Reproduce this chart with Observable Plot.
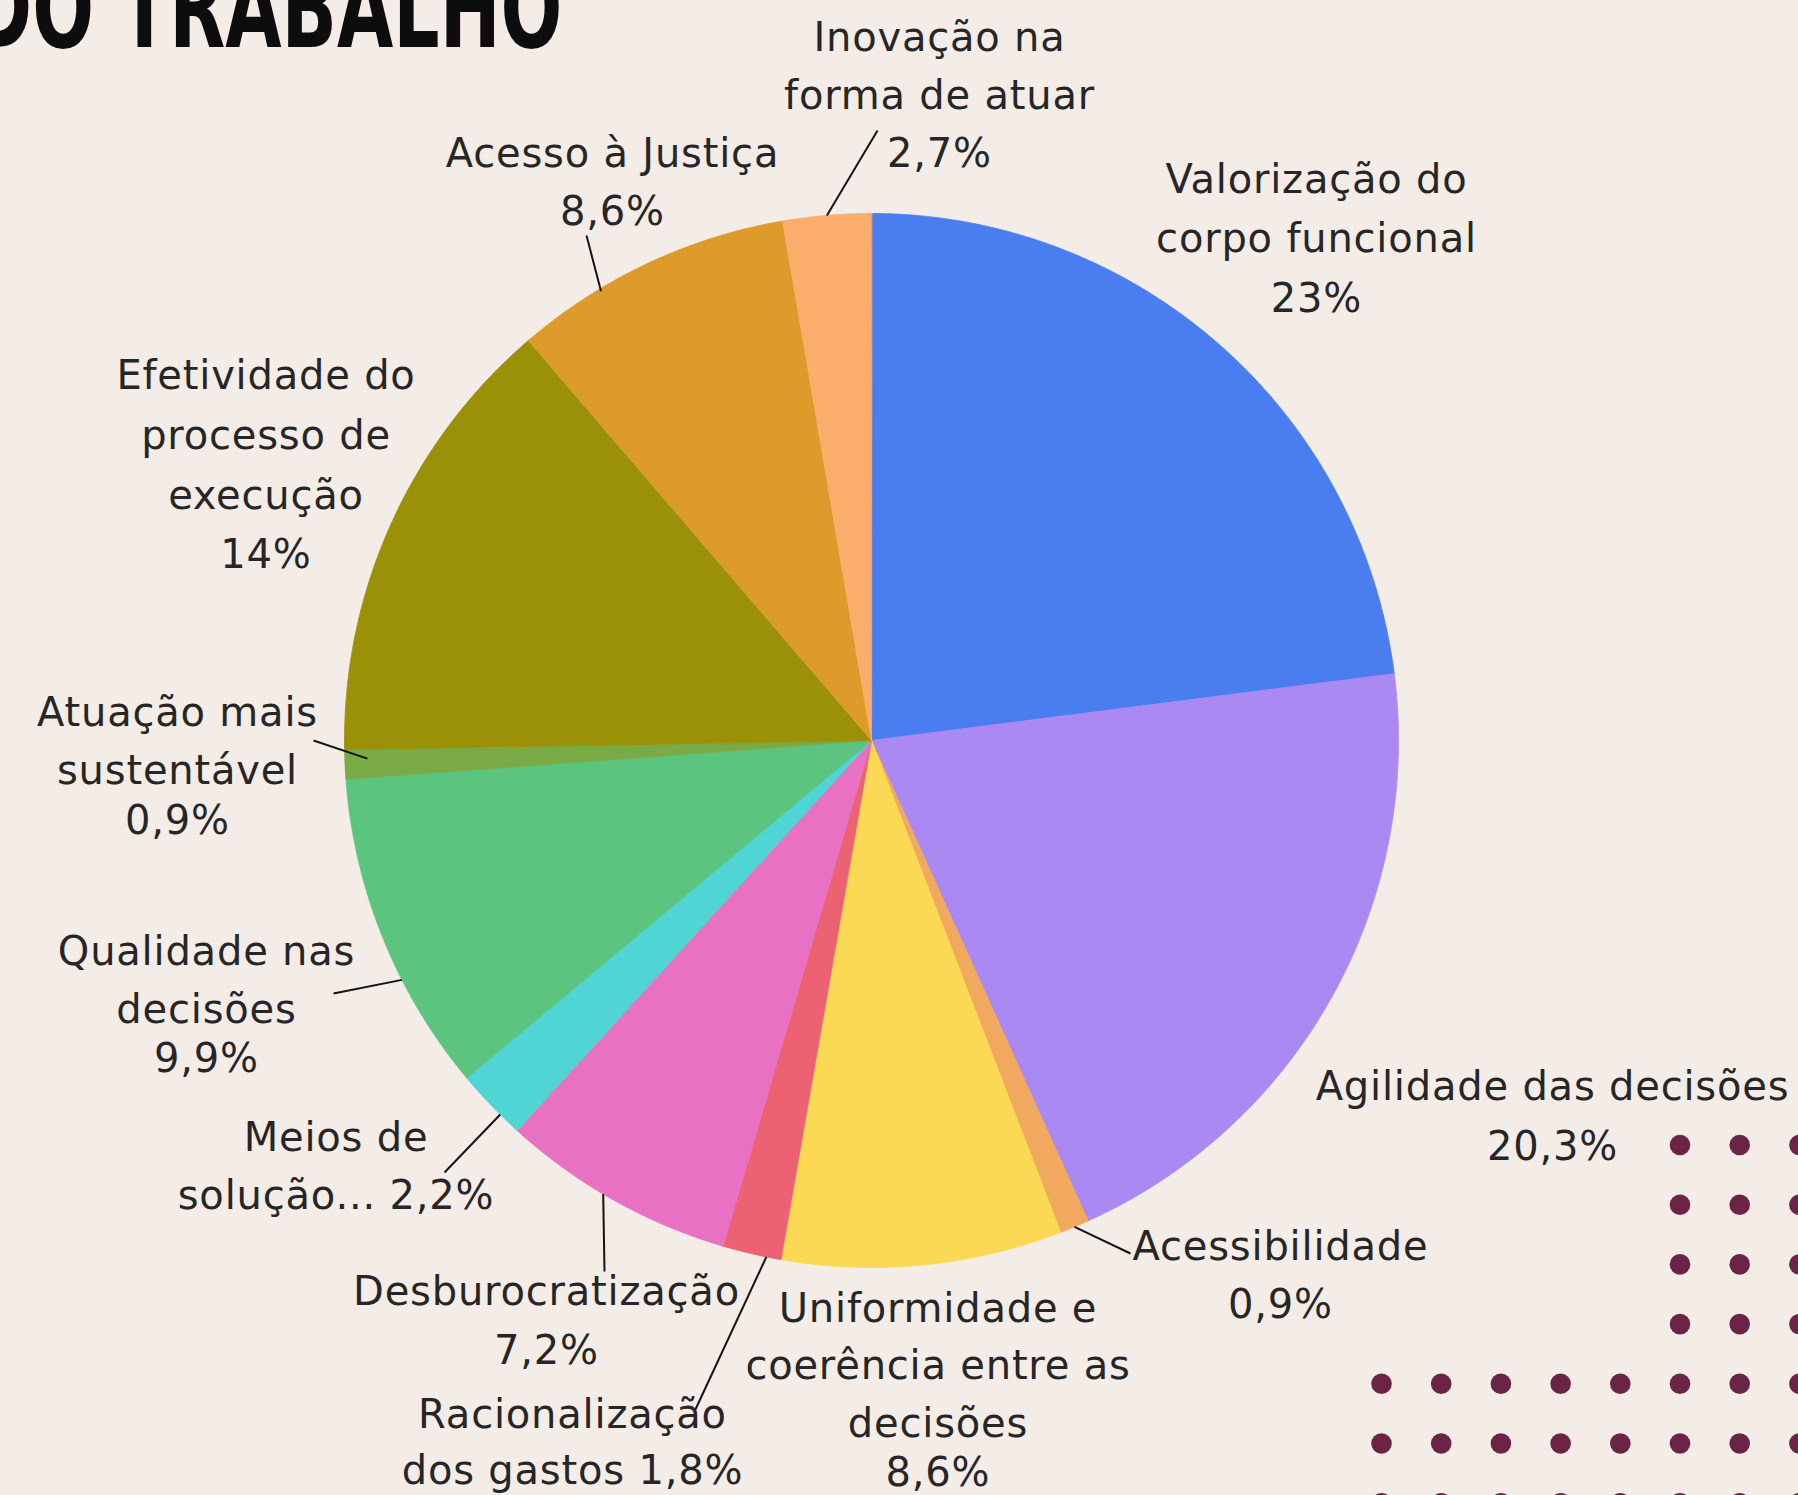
<!DOCTYPE html>
<html><head><meta charset="utf-8">
<script src="https://cdn.jsdelivr.net/npm/d3@7"></script>
<script src="https://cdn.jsdelivr.net/npm/@observablehq/plot@0.6"></script>
<style>html,body{margin:0;padding:0;background:#f4ece7;overflow:hidden}</style>
</head><body><div id="chart"></div>
<script>
// ---- data ----
const categories = ["Valorização do corpo funcional","Agilidade das decisões","Acessibilidade","Uniformidade e coerência entre as decisões","Racionalização dos gastos","Desburocratização","Meios de solução...","Qualidade nas decisões","Atuação mais sustentável","Efetividade do processo de execução","Acesso à Justiça","Inovação na forma de atuar"];
const values = [23, 20.3, 0.9, 8.6, 1.8, 7.2, 2.2, 9.9, 0.9, 14, 8.6, 2.7];
const labelLines = [["Valorização do","corpo funcional"],["Agilidade das decisões"],["Acessibilidade"],["Uniformidade e","coerência entre as","decisões"],["Racionalização","dos gastos"],["Desburocratização"],["Meios de","solução..."],["Qualidade nas","decisões"],["Atuação mais","sustentável"],["Efetividade do","processo de","execução"],["Acesso à Justiça"],["Inovação na","forma de atuar"]];
const pctInline = [false,false,false,false,true,false,true,false,false,false,false,false];
const titleText = "DO TRABALHO";

// ---- styles / layout ----
const colors = ["#4a7ef0","#ab89f2","#f0a95e","#fcd955","#ec6272","#e871c4","#4fd5d4","#5bc57f","#7aaa45","#9a9108","#dd9b2b","#fbad6c"];
const W = 1798, H = 1495, CX = 871, CY = 740, R = 527, BG = "#f4ece7";
const labelLayout = [
  {x:1316, y:180,  step:58.5, pstep:60.5},
  {x:1552, y:1087, step:60,   pstep:60},
  {x:1280, y:1247, step:58,   pstep:58},
  {x:937.5,y:1308.5,step:57.5,pstep:49.6},
  {x:572,  y:1415, step:56,   pstep:56},
  {x:546,  y:1292, step:58.6, pstep:58.6},
  {x:335.5,y:1138, step:58,   pstep:58},
  {x:206,  y:952,  step:58,   pstep:48.5},
  {x:177,  y:713,  step:57.6, pstep:50.4},
  {x:265.5,y:376,  step:59.6, pstep:59.6},
  {x:612,  y:154,  step:58,   pstep:58},
  {x:939,  y:38,   step:57.4, pstep:58.5}
];
const leaderLayout = [
  {i:11, f:0.5,  r:1.0,   x:877, y:130},
  {i:10, f:0.31, r:0.995, x:586, y:235},
  {i:8,  f:0.67, r:0.957, x:313, y:740},
  {i:7,  f:0.36, r:1.0,   x:333, y:993},
  {i:6,  f:0.32, r:1.0,   x:444, y:1172},
  {i:5,  f:0.55, r:1.0,   x:604, y:1271},
  {i:4,  f:0.25, r:1.0,   x:694, y:1411},
  {i:2,  f:0.5,  r:1.0,   x:1130,y:1253}
];

const fmtPct = v => (Number.isInteger(v) ? String(v) : String(v).replace(".", ",")) + "%";

// ---- pie geometry via d3.pie ----
const arcs = d3.pie().sort(null).value(d => d)(values);
const px = (a, r) => CX + r * R * Math.sin(a);
const py = (a, r) => CY - r * R * Math.cos(a);

const sliceMarks = arcs.map((a, i) => {
  const n = Math.max(2, Math.ceil((a.endAngle - a.startAngle) / (Math.PI / 720)));
  const pts = [{x: CX, y: CY}];
  for (let k = 0; k <= n; k++) {
    const t = a.startAngle + (a.endAngle - a.startAngle) * k / n;
    pts.push({x: px(t, 1), y: py(t, 1)});
  }
  return Plot.line(pts, {x: "x", y: "y", fill: colors[i], stroke: colors[i], strokeWidth: 0.8, curve: "linear-closed"});
});

// leader lines
const leaders = leaderLayout.map(l => {
  const a = arcs[l.i];
  const t = a.startAngle + l.f * (a.endAngle - a.startAngle);
  return {x1: px(t, l.r), y1: py(t, l.r), x2: l.x, y2: l.y};
});

// label lines
const textRows = [];
categories.forEach((c, i) => {
  const L = labelLayout[i];
  const lines = labelLines[i].slice();
  if (pctInline[i]) lines[lines.length - 1] += " " + fmtPct(values[i]);
  else lines.push(fmtPct(values[i]));
  let y = L.y;
  lines.forEach((t, k) => {
    if (k > 0) y += (!pctInline[i] && k === lines.length - 1) ? L.pstep : L.step;
    textRows.push({x: L.x, y, text: t});
  });
});

// decoration dots
const dotRows = [];
for (let r = 0; r < 7; r++) for (let c = 0; c < 8; c++) {
  if (r < 4 && c < 5) continue;
  dotRows.push({x: 1381 + c * 59.7, y: 1144.5 + r * 59.7});
}

const chart = Plot.plot({
  width: W, height: H, margin: 0,
  x: {domain: [0, W], range: [0, W], axis: null},
  y: {domain: [0, H], range: [0, H], axis: null},
  style: {background: BG},
  marks: [
    ...sliceMarks,
    Plot.link(leaders, {x1: "x1", y1: "y1", x2: "x2", y2: "y2", stroke: "#141414", strokeWidth: 2}),
    Plot.text(textRows, {x: "x", y: "y", text: "text", fontSize: 40, fontFamily: "DejaVu Sans", fill: "#262626", textAnchor: "middle", lineAnchor: "middle"}),
    Plot.text([titleText], {x: 562, y: 46, text: d => d, fontSize: 80, fontWeight: 900, fontFamily: "DejaVu Sans", fill: "#0d0d0d", textAnchor: "end", lineAnchor: "bottom"}),
    Plot.dot(dotRows, {x: "x", y: "y", r: 10.3, fill: "#6b2346", stroke: "none"})
  ]
});

document.getElementById("chart").appendChild(chart);
d3.select(chart).selectAll("text").each(function() {
  const el = d3.select(this);
  if (el.text() === titleText) {
    el.attr("transform", (el.attr("transform") || "") + " scale(0.91,1.4)");
  } else {
    el.style("letter-spacing", "0.8px");
  }
});
</script></body></html>
